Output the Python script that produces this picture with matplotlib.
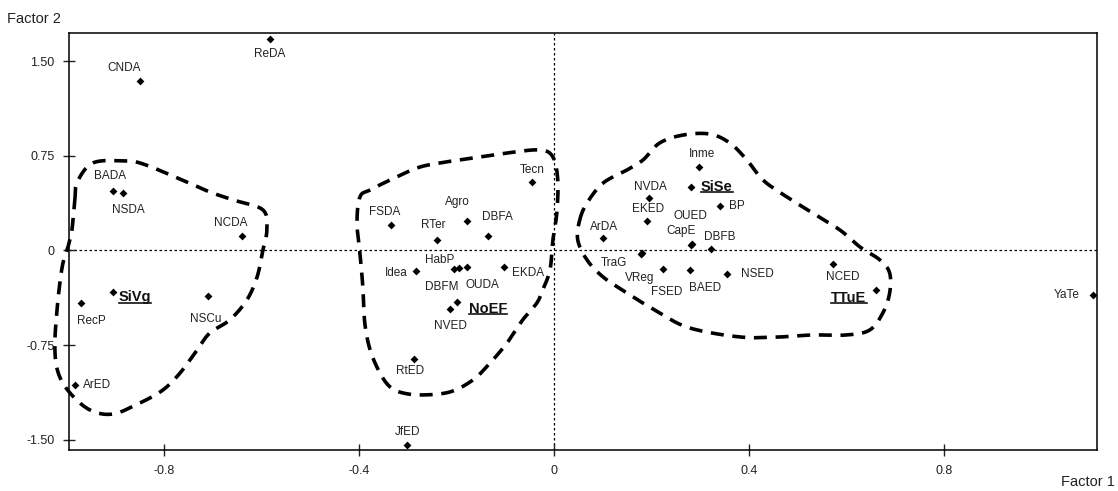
import matplotlib
matplotlib.use('Agg')
import matplotlib.pyplot as plt
import numpy as np
from matplotlib.lines import Line2D

plt.rcParams['font.family'] = ['Liberation Sans', 'DejaVu Sans']

# Factor scores
names = ['ReDA', 'CNDA', 'BADA', 'NSDA', 'NCDA', 'SiVg', 'RecP', 'NSCu', 'ArED',
         'Tecn', 'FSDA', 'Agro', 'RTer', 'DBFA', 'Idea', 'HabP', 'DBFM', 'OUDA',
         'EKDA', 'NoEF', 'NVED', 'RtED', 'JfED',
         'Inme', 'SiSe', 'BP', 'NVDA', 'EKED', 'OUED', 'CapE', 'DBFB', 'ArDA',
         'TraG', 'VReg', 'FSED', 'BAED', 'NSED', 'NCED', 'TTuE', 'YaTe']
factor1 = [-0.583, -0.849, -0.905, -0.884, -0.640, -0.905, -0.970, -0.710, -0.983,
           -0.045, -0.334, -0.178, -0.240, -0.135, -0.283, -0.195, -0.205, -0.178,
           -0.103, -0.199, -0.213, -0.287, -0.301,
           0.297, 0.281, 0.341, 0.195, 0.191, 0.283, 0.281, 0.322, 0.100,
           0.181, 0.179, 0.223, 0.279, 0.355, 0.573, 0.661, 1.106]
factor2 = [1.675, 1.342, 0.471, 0.455, 0.115, -0.329, -0.416, -0.360, -1.065,
           0.542, 0.202, 0.234, 0.083, 0.115, -0.162, -0.140, -0.150, -0.130,
           -0.133, -0.408, -0.463, -0.862, -1.540,
           0.661, 0.503, 0.352, 0.416, 0.234, 0.050, 0.044, 0.012, 0.099,
           -0.020, -0.028, -0.147, -0.155, -0.187, -0.107, -0.313, -0.350]
groups = ['SiVg', 'NoEF', 'SiSe', 'TTuE']

# label placement (pixels right, pixels down from the point)
label_off = {
    'ReDA': (0, 15), 'CNDA': (-16, -13), 'BADA': (-3, -15), 'NSDA': (5, 17),
    'NCDA': (-11, -13), 'SiVg': (22, 5), 'RecP': (10, 18), 'NSCu': (-2, 23),
    'ArED': (22, 0), 'Tecn': (0, -12), 'FSDA': (-6, -13), 'Agro': (-10, -19),
    'RTer': (-4, -15), 'DBFA': (9, -19), 'Idea': (-20, 2), 'HabP': (-19, -8),
    'DBFM': (-12, 18), 'OUDA': (15, 18), 'EKDA': (24, 6), 'NoEF': (31, 7),
    'NVED': (0, 17), 'RtED': (-4, 12), 'JfED': (0, -13), 'Inme': (3, -13),
    'SiSe': (26, 0), 'BP': (17, 0), 'NVDA': (2, -11), 'EKED': (1, -12),
    'OUED': (-1, -28), 'CapE': (-10, -14), 'DBFB': (9, -12), 'ArDA': (1, -11),
    'TraG': (-28, 10), 'VReg': (-1, 24), 'FSED': (4, 23), 'BAED': (15, 18),
    'NSED': (30, 0), 'NCED': (10, 13), 'TTuE': (-27, 8), 'YaTe': (-20, 0),
}

# hand-drawn cluster outlines (data units)
outline_sivg = [(-0.983, 0.400), (-0.978, 0.542), (-0.946, 0.693), (-0.884, 0.709),
                (-0.843, 0.685), (-0.753, 0.542), (-0.706, 0.463), (-0.658, 0.400),
                (-0.597, 0.321), (-0.589, 0.162), (-0.597, 0.004), (-0.609, -0.210),
                (-0.630, -0.392), (-0.665, -0.550), (-0.706, -0.653), (-0.732, -0.788),
                (-0.767, -0.970), (-0.802, -1.104), (-0.849, -1.207), (-0.905, -1.295),
                (-0.952, -1.263), (-0.993, -1.128), (-1.017, -0.970), (-1.024, -0.764),
                (-1.019, -0.447), (-1.009, -0.131), (-0.997, 0.028), (-0.989, 0.162)]
outline_noef = [(-0.398, 0.424), (-0.377, 0.479), (-0.336, 0.558), (-0.281, 0.653),
                (-0.234, 0.693), (-0.166, 0.732), (-0.096, 0.772), (-0.029, 0.796),
                (-0.002, 0.740), (0.008, 0.558), (0.006, 0.297), (-0.002, 0.083),
                (-0.008, -0.154), (-0.023, -0.313), (-0.035, -0.416), (-0.064, -0.550),
                (-0.096, -0.732), (-0.131, -0.891), (-0.166, -1.025), (-0.213, -1.120),
                (-0.269, -1.144), (-0.310, -1.128), (-0.336, -1.081), (-0.357, -0.970),
                (-0.377, -0.788), (-0.388, -0.574), (-0.392, -0.289), (-0.398, -0.020),
                (-0.404, 0.218)]
outline_sise = [(0.053, 0.241), (0.068, 0.376), (0.101, 0.534), (0.150, 0.637),
                (0.183, 0.717), (0.217, 0.851), (0.265, 0.914), (0.320, 0.922),
                (0.361, 0.851), (0.396, 0.717), (0.429, 0.558), (0.478, 0.424),
                (0.531, 0.297), (0.587, 0.162), (0.628, 0.028), (0.669, -0.075),
                (0.689, -0.178), (0.689, -0.337), (0.675, -0.495), (0.648, -0.630),
                (0.601, -0.669), (0.531, -0.669), (0.464, -0.685), (0.382, -0.685),
                (0.279, -0.614), (0.217, -0.495), (0.150, -0.337), (0.101, -0.210),
                (0.068, -0.075), (0.049, 0.083)]

xticks = [-0.8, -0.4, 0, 0.4, 0.8]
xtick_labels = ['-0.8', '-0.4', '0', '0.4', '0.8']
yticks = [1.5, 0.75, 0, -0.75, -1.5]
ytick_labels = ['1.50', '0.75', '0', '-0.75', '-1.50']


def smooth_closed(pts, n=20):
    # closed Catmull-Rom curve through the outline points
    p = np.array(pts)
    m = len(p)
    out = []
    for i in range(m):
        p0, p1, p2, p3 = p[i - 1], p[i], p[(i + 1) % m], p[(i + 2) % m]
        for t in np.linspace(0, 1, n, endpoint=False):
            t2, t3 = t * t, t * t * t
            out.append(0.5 * ((2 * p1) + (-p0 + p2) * t +
                              (2 * p0 - 5 * p1 + 4 * p2 - p3) * t2 +
                              (-p0 + 3 * p1 - 3 * p2 + p3) * t3))
    out.append(out[0])
    return np.array(out)


fig = plt.figure(figsize=(11.18, 4.91), dpi=100)
ax = fig.add_axes([0.0617, 0.0835, 0.9193, 0.8493])

ax.axvline(0, color='black', lw=0.9, ls=(0, (2, 2)), zorder=1)
ax.axhline(0, color='black', lw=0.9, ls=(0, (2, 2)), zorder=1)

for outline in [outline_sivg, outline_noef, outline_sise]:
    c = smooth_closed(outline)
    ax.plot(c[:, 0], c[:, 1], color='black', lw=2.6, ls=(0, (3.6, 2.4)),
            clip_on=False, zorder=2)

ax.scatter(factor1, factor2, marker='D', s=16, color='black', zorder=3, linewidths=0)

group_texts = []
for name, fx, fy in zip(names, factor1, factor2):
    dx, dy = label_off[name]
    ha = 'right' if name == 'YaTe' else 'center'
    if name in groups:
        t = ax.annotate(name, (fx, fy), xytext=(dx, -dy), textcoords='offset pixels',
                        ha='center', va='center', fontsize=10.5, fontweight='bold',
                        color='#111111')
        group_texts.append(t)
    else:
        ax.annotate(name, (fx, fy), xytext=(dx + (7 if ha == 'right' else 0), -dy),
                    textcoords='offset pixels', ha=ha, va='center', fontsize=8.5,
                    color='#222222')

ax.set_xlim(-0.995, 1.114)
ax.set_ylim(-1.58, 1.722)
ax.set_xticks(xticks)
ax.set_xticklabels(xtick_labels)
ax.set_yticks(yticks)
ax.set_yticklabels(ytick_labels)
ax.tick_params(direction='inout', length=9, width=1, labelsize=9, pad=6, colors='#222222')
for s in ax.spines.values():
    s.set_linewidth(1.1)

fig.text(0.006, 0.975, 'Factor 2', fontsize=10.5, va='top', ha='left', color='#222222')
fig.text(0.997, 0.005, 'Factor 1', fontsize=10.5, va='bottom', ha='right', color='#222222')

# underline the group names
fig.canvas.draw()
renderer = fig.canvas.get_renderer()
inv = fig.transFigure.inverted()
for t in group_texts:
    bb = t.get_window_extent(renderer)
    (x0, y0), (x1, _) = inv.transform([(bb.x0, bb.y0 + 1.5), (bb.x1, bb.y0 + 1.5)])
    fig.add_artist(Line2D([x0, x1], [y0, y0], color='#111111', lw=1.2))

fig.savefig('out.png', dpi=100)
